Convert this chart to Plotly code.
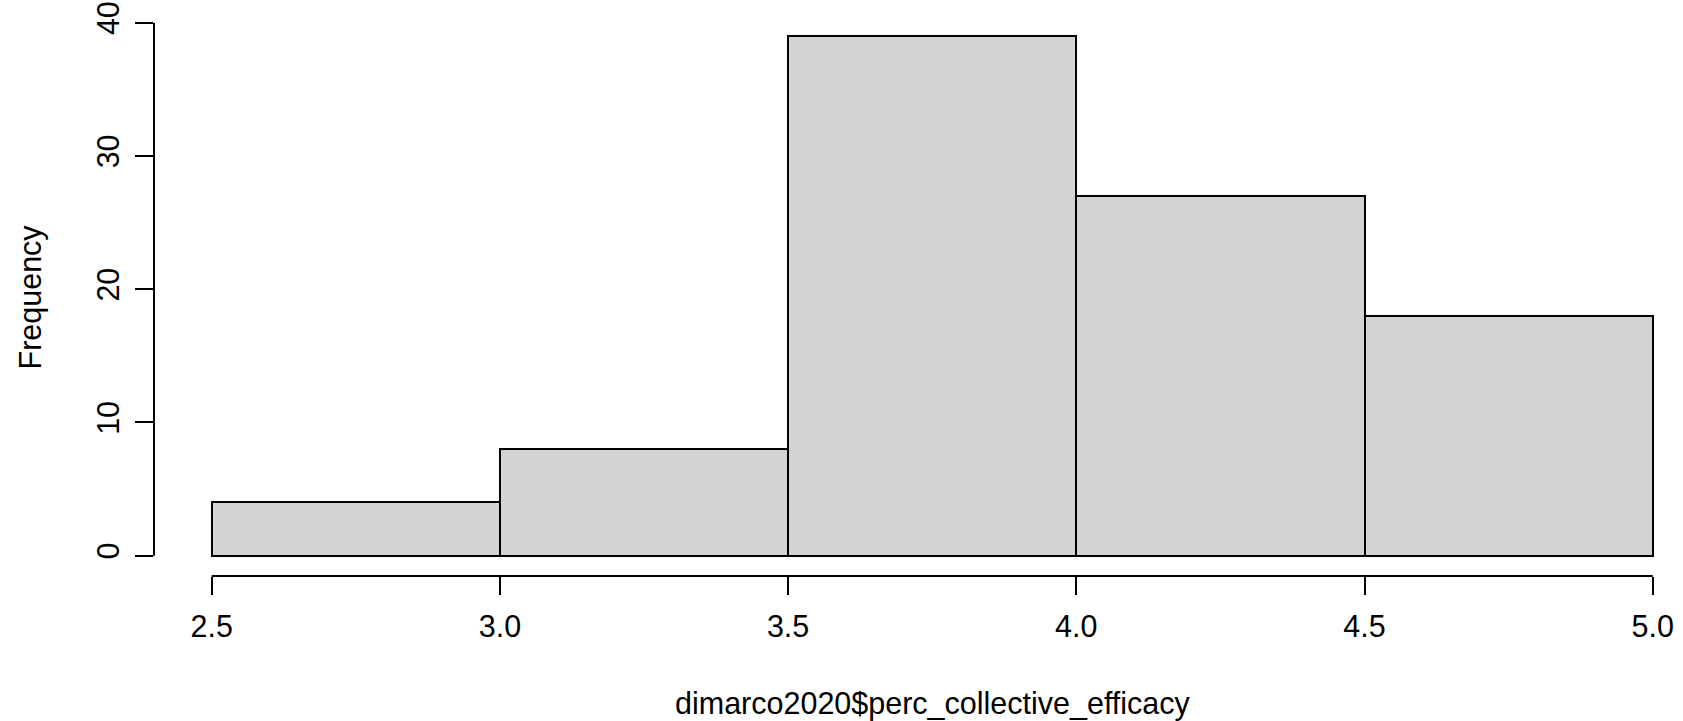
import plotly.graph_objects as go

# Histogram data
bin_edges = [2.5, 3.0, 3.5, 4.0, 4.5, 5.0]
counts = [4, 8, 39, 27, 18]
x_ticks = [2.5, 3.0, 3.5, 4.0, 4.5, 5.0]
x_tick_labels = ["2.5", "3.0", "3.5", "4.0", "4.5", "5.0"]
y_ticks = [0, 10, 20, 30, 40]
y_tick_labels = ["0", "10", "20", "30", "40"]
x_title = "dimarco2020$perc_collective_efficacy"
y_title = "Frequency"

FONT = "Liberation Sans, Arial, Helvetica, sans-serif"
FS = 30.5

centers = [(a + b) / 2 for a, b in zip(bin_edges[:-1], bin_edges[1:])]
widths = [b - a for a, b in zip(bin_edges[:-1], bin_edges[1:])]

fig = go.Figure(go.Bar(
    x=centers, y=counts, width=widths,
    marker=dict(color="#d3d3d3", line=dict(color="black", width=2)),
    hoverinfo="x+y",
))

W, H = 1683, 721
L, R, T, B = 154, 0, 15, 145
px_per_x = (1652.7 - 211.7) / 2.5
x0 = 2.5 - (211.7 - L) / px_per_x
x1 = x0 + (W - L - R) / px_per_x
px_per_y = (555.7 - 22.7) / 40
bottom_px = H - B
y0 = -(bottom_px - 555.7) / px_per_y
y1 = 40 + (22.7 - T) / px_per_y

fig.update_layout(
    width=W, height=H,
    margin=dict(l=L, r=R, t=T, b=B, pad=0),
    paper_bgcolor="white", plot_bgcolor="white",
    showlegend=False,
    bargap=0,
    font=dict(family=FONT, size=FS, color="black"),
    xaxis=dict(
        range=[x0, x1], tickvals=x_ticks, ticktext=x_tick_labels,
        ticks="outside", ticklen=18, tickwidth=2, tickcolor="black",
        showgrid=False, zeroline=False, showline=False,
        tickfont=dict(family=FONT, size=FS, color="black"),
        ticklabelstandoff=5,
    ),
    yaxis=dict(
        range=[y0, y1], tickvals=y_ticks, ticktext=y_tick_labels,
        ticks="outside", ticklen=18, tickwidth=2, tickcolor="black",
        showgrid=False, zeroline=False, showline=False,
        tickangle=-90,
        tickfont=dict(family=FONT, size=FS, color="black"),
        ticklabelstandoff=4,
    ),
    shapes=[
        dict(type="line", xref="x", yref="paper", x0=x_ticks[0], x1=x_ticks[-1], y0=0, y1=0,
             line=dict(color="black", width=2)),
        dict(type="line", xref="paper", yref="y", x0=0, x1=0, y0=y_ticks[0], y1=y_ticks[-1],
             line=dict(color="black", width=2)),
    ],
    annotations=[
        dict(text=x_title, xref="paper", yref="paper", x=0.5, y=0, xanchor="center",
             yanchor="middle", xshift=14, yshift=-127, showarrow=False,
             font=dict(family=FONT, size=FS, color="black")),
        dict(text=y_title, xref="paper", yref="paper", x=0, y=0.5, xanchor="center",
             yanchor="middle", xshift=-124, yshift=-2, textangle=-90, showarrow=False,
             font=dict(family=FONT, size=FS, color="black")),
    ],
)

fig.write_html("out.html")
